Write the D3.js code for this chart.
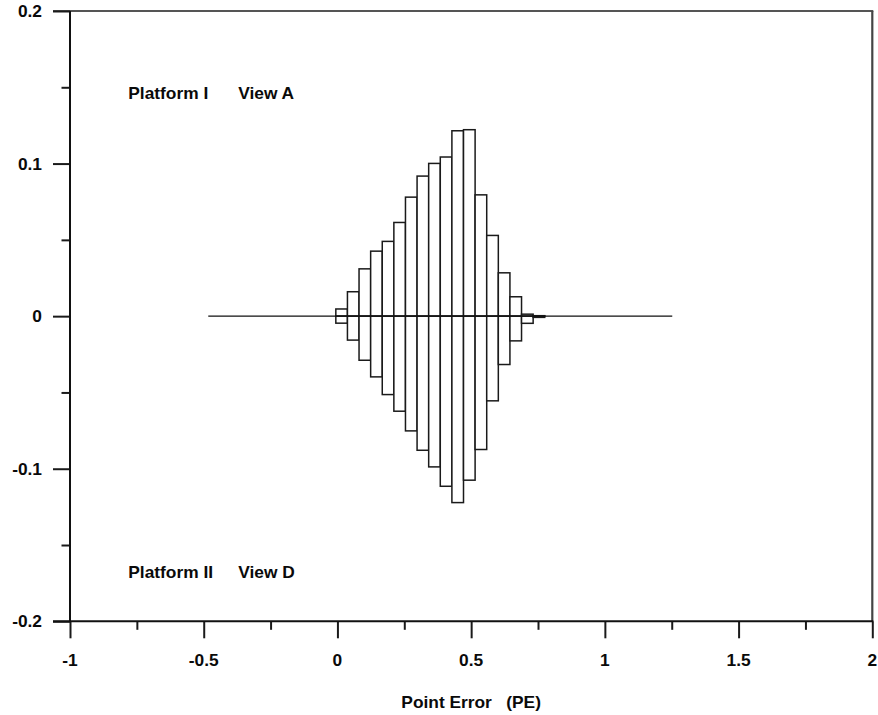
<!DOCTYPE html>
<html><head><meta charset="utf-8">
<script src="https://cdn.jsdelivr.net/npm/d3@7"></script>
<style>body{margin:0;background:#fff}svg{display:block}</style></head>
<body>
<script>
// ---- data ----
const binLeft = [-0.006, 0.0374, 0.0808, 0.1242, 0.1676, 0.211, 0.2544, 0.2978, 0.3412,
                 0.3846, 0.428, 0.4714, 0.5148, 0.5582, 0.6016, 0.645, 0.6884, 0.7318];
const binWidth = 0.0434;
// Platform I, View A (drawn upward)
const upperValues = [0.0047, 0.016, 0.031, 0.0426, 0.049, 0.0614, 0.078, 0.0918, 0.1001,
                     0.1043, 0.1215, 0.1222, 0.0795, 0.0529, 0.0284, 0.0127, 0.0013, 0.0003];
// Platform II, View D (drawn downward)
const lowerValues = [0.0046, 0.0157, 0.0289, 0.0398, 0.0514, 0.0623, 0.0752, 0.0879, 0.0988,
                     0.1115, 0.1222, 0.1075, 0.0874, 0.0555, 0.0317, 0.0162, 0.0047, 0.0008];
const zeroLineExtent = [-0.483, 1.252];
const xMajorTicks = [-1, -0.5, 0, 0.5, 1, 1.5, 2];
const xTickLabels = ["-1", "-0.5", "0", "0.5", "1", "1.5", "2"];
const xMinorTicks = [-0.75, -0.25, 0.25, 0.75, 1.25, 1.75];
const yMajorTicks = [-0.2, -0.1, 0, 0.1, 0.2];
const yTickLabels = ["-0.2", "-0.1", "0", "0.1", "0.2"];
const yMinorTicks = [-0.15, -0.05, 0.05, 0.15];
const annotationTexts = ["Platform I", "View A", "Platform II", "View D"];
const annotationX = [-0.782, -0.371, -0.782, -0.371];
const annotationY = [0.1425, 0.1425, -0.1718, -0.1718];
const xTitle = "Point Error   (PE)";

// ---- layout ----
const W = 878, H = 715;
const x = d3.scaleLinear().domain([-1, 2]).range([70, 872.3]);
const y = d3.scaleLinear().domain([-0.2, 0.2]).range([621.3, 11]);
const font = "'Liberation Sans', Arial, Helvetica, sans-serif";
const fs = 17, sx = 1.02;

const svg = d3.select("body").append("svg").attr("width", W).attr("height", H);

function label(g, txt, px, py, anchor) {
  g.append("text")
    .attr("transform", `translate(${px},${py}) scale(${sx},1)`)
    .attr("text-anchor", anchor)
    .attr("font-family", font).attr("font-weight", "bold")
    .attr("font-size", fs).attr("fill", "#0a0a0a")
    .style("white-space", "pre")
    .text(txt);
}

// bars
const bars = svg.append("g").attr("fill", "#fff").attr("stroke", "#1a1a1a").attr("stroke-width", 1.5);
bars.selectAll("rect.up").data(binLeft).join("rect").attr("class", "up")
  .attr("x", d => x(d)).attr("width", d => x(d + binWidth) - x(d))
  .attr("y", (d, i) => y(upperValues[i])).attr("height", (d, i) => y(0) - y(upperValues[i]));
bars.selectAll("rect.dn").data(binLeft).join("rect").attr("class", "dn")
  .attr("x", d => x(d)).attr("width", d => x(d + binWidth) - x(d))
  .attr("y", y(0)).attr("height", (d, i) => y(-lowerValues[i]) - y(0));

// zero line
svg.append("line")
  .attr("x1", x(zeroLineExtent[0])).attr("x2", x(zeroLineExtent[1]))
  .attr("y1", y(0)).attr("y2", y(0))
  .attr("stroke", "#111").attr("stroke-width", 1.2);

// frame: top (gray), right (gray)
const majorLen = 17, minorLen = 8.5;
svg.append("line").attr("x1", x(-1) - majorLen).attr("x2", x(2) + 1)
  .attr("y1", y(0.2)).attr("y2", y(0.2)).attr("stroke", "#555").attr("stroke-width", 2.2);
svg.append("line").attr("x1", x(2)).attr("x2", x(2))
  .attr("y1", y(0.2)).attr("y2", y(-0.2)).attr("stroke", "#444").attr("stroke-width", 2.2);

// axes via d3 axis generators (ticks only), domain drawn separately
const yAxisMajor = d3.axisLeft(y).tickValues(yMajorTicks).tickSize(majorLen).tickFormat("");
const yAxisMinor = d3.axisLeft(y).tickValues(yMinorTicks).tickSize(minorLen).tickFormat("");
const xAxisMajor = d3.axisBottom(x).tickValues(xMajorTicks).tickSize(majorLen).tickFormat("");
const xAxisMinor = d3.axisBottom(x).tickValues(xMinorTicks).tickSize(minorLen).tickFormat("");

function styleAxis(g) {
  g.select(".domain").remove();
  g.selectAll(".tick line").attr("stroke", "#1a1a1a").attr("stroke-width", 2);
}
svg.append("g").attr("transform", `translate(${x(-1)},0)`).call(yAxisMajor).call(styleAxis);
svg.append("g").attr("transform", `translate(${x(-1)},0)`).call(yAxisMinor).call(styleAxis);
svg.append("g").attr("transform", `translate(0,${y(-0.2)})`).call(xAxisMajor).call(styleAxis);
svg.append("g").attr("transform", `translate(0,${y(-0.2)})`).call(xAxisMinor).call(styleAxis);

// axis lines
svg.append("line").attr("x1", x(-1)).attr("x2", x(-1))
  .attr("y1", y(0.2)).attr("y2", y(-0.2)).attr("stroke", "#111").attr("stroke-width", 2);
svg.append("line").attr("x1", x(-1) - majorLen).attr("x2", x(2) + 1)
  .attr("y1", y(-0.2)).attr("y2", y(-0.2)).attr("stroke", "#111").attr("stroke-width", 2);

// tick labels
const tl = svg.append("g");
yMajorTicks.forEach((v, i) => label(tl, yTickLabels[i], 42, y(v) + 6, "end"));
xMajorTicks.forEach((v, i) => label(tl, xTickLabels[i], x(v), 666, "middle"));

// axis title
label(svg, xTitle, (x(-1) + x(2)) / 2, 708, "middle");

// annotations
annotationTexts.forEach((t, i) => label(svg, t, x(annotationX[i]), y(annotationY[i]), "start"));
</script>
</body></html>
